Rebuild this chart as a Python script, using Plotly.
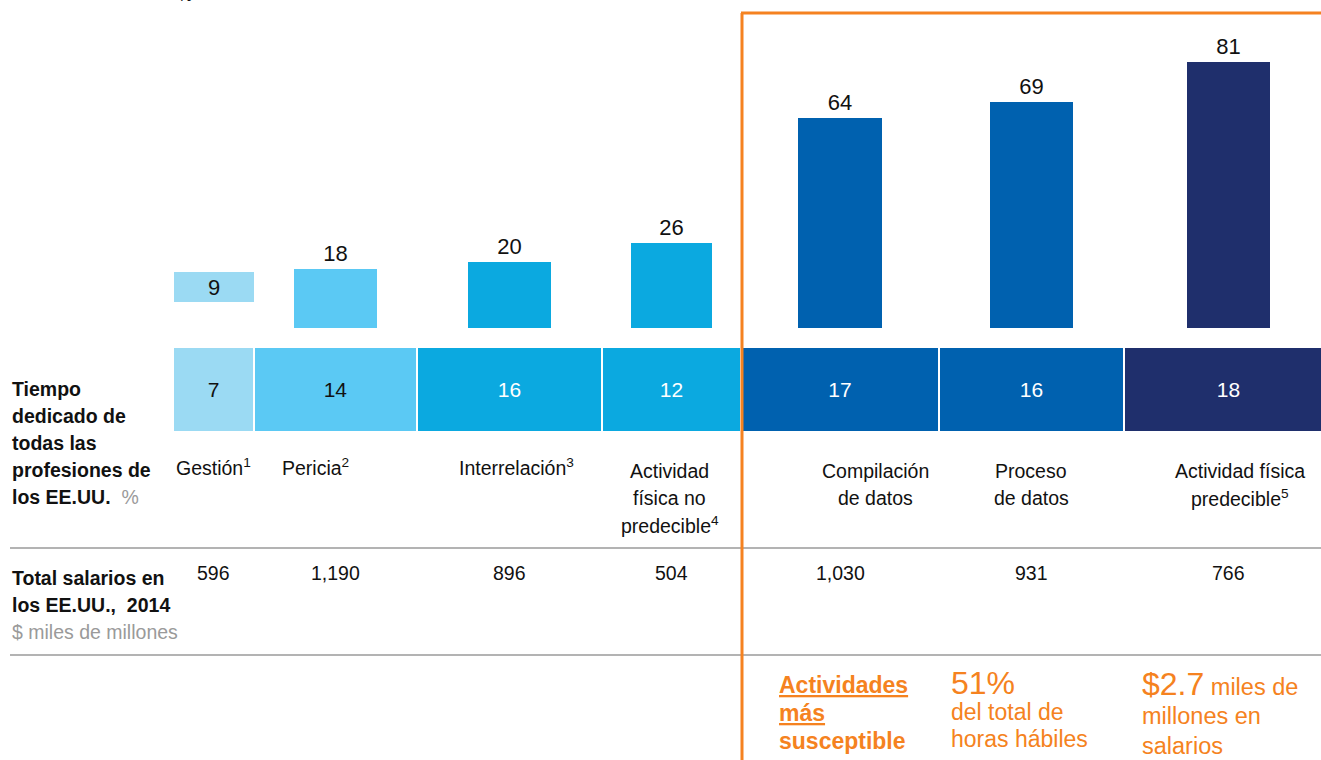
import plotly.graph_objects as go

# ---------------- data ----------------
categories = ["Gestión<sup>1</sup>", "Pericia<sup>2</sup>", "Interrelación<sup>3</sup>",
              "Actividad<br>física no<br>predecible<sup>4</sup>", "Compilación<br>de datos",
              "Proceso<br>de datos", "Actividad física<br>predecible<sup>5</sup>"]
automation_pct = [9, 18, 20, 26, 64, 69, 81]          # % automatizable (barras superiores)
time_share_pct = [7, 14, 16, 12, 17, 16, 18]          # % del tiempo de todas las profesiones
wages_bn = [596, 1190, 896, 504, 1030, 931, 766]      # salarios, miles de millones USD

# ---------------- style ----------------
W, H = 1321, 760
FONT = "Liberation Sans, Arial, sans-serif"
ORANGE = "#F58220"
GREY_TXT = "#9a9a9a"
colors = ["#9BDAF3", "#5BC9F4", "#0BA9E0", "#0BA9E0", "#0061AF", "#0061AF", "#1F2F6C"]
mekko_text_colors = ["#111111", "#111111", "white", "white", "white", "white", "white"]
top_bar_width = [6.9, 7.2, 7.2, 7.0, 7.2, 7.2, 7.2]
top_bar_base = [8, 0, 0, 0, 0, 0, 0]
label_shift_px = [0, -20, 7, -2, 35, 0, 11]


def px_x(px):
    return px / W


def px_y(py):
    return 1 - py / H


# positions along the 0-100 mekko axis
starts, acc = [], 0
for w in time_share_pct:
    starts.append(acc)
    acc += w
centers = [s + w / 2 for s, w in zip(starts, time_share_pct)]

fig = go.Figure()

fig.add_trace(go.Bar(
    x=centers, y=automation_pct, base=top_bar_base, width=top_bar_width,
    marker=dict(color=colors, line=dict(width=0)),
    text=[str(v) for v in automation_pct],
    textposition=["inside"] + ["outside"] * 6,
    insidetextanchor="end", textangle=0,
    textfont=dict(family=FONT, size=22, color="#111111"),
    constraintext="none", cliponaxis=False,
    xaxis="x", yaxis="y", hoverinfo="skip", showlegend=False,
))

fig.add_trace(go.Bar(
    x=centers, y=[1] * len(time_share_pct), width=time_share_pct,
    marker=dict(color=colors, line=dict(color="white", width=2)),
    text=[str(v) for v in time_share_pct],
    textposition="inside", insidetextanchor="middle", textangle=0,
    textfont=dict(family=FONT, size=21, color=mekko_text_colors),
    constraintext="none",
    xaxis="x", yaxis="y2", hoverinfo="skip", showlegend=False,
))

annotations = []


def add_lines(lines, y0, step, size, color, x=None, xref="paper", xanchor="left", xshift=0):
    """Each line as its own annotation so the line spacing can match the reference."""
    for i, ln in enumerate(lines):
        annotations.append(dict(x=x, xref=xref, y=px_y(y0 + i * step), yref="paper", text=ln,
                                xanchor=xanchor, yanchor="middle", xshift=xshift,
                                showarrow=False, align="center" if xanchor == "center" else "left",
                                font=dict(family=FONT, size=size, color=color)))


for c, lab, sh in zip(centers, categories, label_shift_px):
    lines = lab.split("<br>")
    y0 = 467 if len(lines) == 1 else 471
    add_lines(lines, y0, 27, 19.5, "#111111", x=c, xref="x", xanchor="center", xshift=sh)

for c, v in zip(centers, wages_bn):
    annotations.append(dict(x=c, xref="x", y=px_y(573), yref="paper", text=f"{v:,}",
                            xanchor="center", yanchor="middle", showarrow=False,
                            font=dict(family=FONT, size=19.5, color="#111111")))

add_lines(["<b>Tiempo</b>", "<b>dedicado de</b>", "<b>todas las</b>", "<b>profesiones de</b>",
           f"<b>los EE.UU.</b>\u00a0\u00a0<span style='color:{GREY_TXT}'>%</span>"],
          389, 27, 19.5, "#111111", x=px_x(10))
add_lines(["<b>Total salarios en</b>", "<b>los EE.UU.,\u00a0\u00a02014</b>",
           f"<span style='color:{GREY_TXT}'>$ miles de millones</span>"],
          578, 27, 19.5, "#111111", x=px_x(10))

annotations.append(dict(x=px_x(185), y=px_y(6), xref="paper", yref="paper", xanchor="center",
                        yanchor="bottom", showarrow=False, text="%",
                        font=dict(family=FONT, size=16, color="#111111")))

# orange call-outs
add_lines(["<b><u>Actividades</u></b>", "<b><u>más</u></b>", "<b>susceptible</b>"],
          685, 28, 23, ORANGE, x=px_x(777))
annotations.append(dict(x=px_x(949), y=px_y(683), xref="paper", yref="paper", xanchor="left",
                        yanchor="middle", showarrow=False, text="51%",
                        font=dict(family=FONT, size=32, color=ORANGE)))
add_lines(["del total de", "horas hábiles"], 712, 27, 23, ORANGE, x=px_x(949))
annotations.append(dict(x=px_x(1140), y=px_y(684), xref="paper", yref="paper", xanchor="left",
                        yanchor="middle", showarrow=False,
                        text="<span style='font-size:32px'>$2.7</span> miles de",
                        font=dict(family=FONT, size=23.5, color=ORANGE)))
add_lines(["millones en", "salarios"], 716, 30, 23.5, ORANGE, x=px_x(1140))

shapes = [
    dict(type="line", xref="paper", yref="paper", x0=px_x(10), x1=1, y0=px_y(548), y1=px_y(548),
         line=dict(color="#b3b3b3", width=2)),
    dict(type="line", xref="paper", yref="paper", x0=px_x(10), x1=1, y0=px_y(655), y1=px_y(655),
         line=dict(color="#b3b3b3", width=2)),
    dict(type="line", xref="paper", yref="paper", x0=px_x(742), x1=px_x(742), y0=px_y(13), y1=0,
         line=dict(color=ORANGE, width=3)),
    dict(type="line", xref="paper", yref="paper", x0=px_x(741), x1=1, y0=px_y(13), y1=px_y(13),
         line=dict(color=ORANGE, width=3)),
]

fig.update_layout(
    width=W, height=H, margin=dict(l=0, r=0, t=0, b=0),
    paper_bgcolor="white", plot_bgcolor="white",
    showlegend=False, bargap=0,
    xaxis=dict(domain=[px_x(173), 1], range=[0, (W - 173) / 11.6], visible=False, fixedrange=True),
    yaxis=dict(domain=[px_y(328), 1], range=[0, 100], visible=False, fixedrange=True),
    yaxis2=dict(domain=[px_y(432), px_y(347)], range=[0, 1], visible=False, fixedrange=True,
                anchor="x"),
    annotations=annotations, shapes=shapes,
    font=dict(family=FONT),
)

fig.write_html("out.html", config={"displayModeBar": False},
               post_script="document.body.style.margin='0px';"
                           "document.body.style.overflow='hidden';")
